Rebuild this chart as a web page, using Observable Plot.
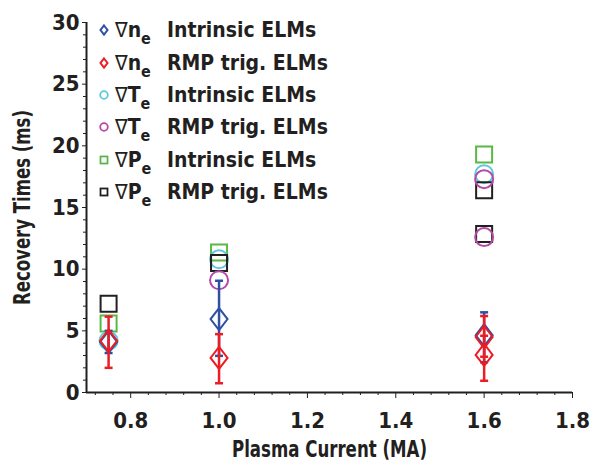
<!DOCTYPE html>
<html>
<head>
<meta charset="utf-8">
<script src="https://cdn.jsdelivr.net/npm/d3@7"></script>
<script src="https://cdn.jsdelivr.net/npm/@observablehq/plot@0.6"></script>
<style>
  html, body { margin: 0; padding: 0; background: #fff; }
  #wrap { position: relative; width: 591px; height: 471px; }
  .cf { font-family: "Liberation Sans Narrow", "DejaVu Sans Condensed", "Roboto Condensed", sans-serif; font-weight: bold; font-stretch: condensed; }
  #legend { position: absolute; left: 97px; top: 14px; color: #231f20; }
  .row { display: flex; align-items: center; height: 32.4px; font-size: 21px; white-space: nowrap; }
  .row svg { width: 14px; height: 14px; margin-right: 4px; }
  .lab { display: inline-block; width: 52px; }
  .nab { font-family: "DejaVu Sans", sans-serif; font-weight: normal; font-size: 21px; }
  .sub { font-size: 16px; position: relative; top: 7px; }
</style>
</head>
<body>
<div id="wrap"></div>
<script>
// ---- data ----
const xMajor = [0.8, 1.0, 1.2, 1.4, 1.6, 1.8];
const xMinor = [0.72, 0.76, 0.84, 0.88, 0.92, 0.96, 1.04, 1.08, 1.12, 1.16, 1.24, 1.28, 1.32, 1.36, 1.44, 1.48, 1.52, 1.56, 1.64, 1.68, 1.72, 1.76];
const yMajor = [0, 5, 10, 15, 20, 25, 30];
const yMinor = [1, 2, 3, 4, 6, 7, 8, 9, 11, 12, 13, 14, 16, 17, 18, 19, 21, 22, 23, 24, 26, 27, 28, 29];

const neIntrX = [0.75, 1.0, 1.6];
const neIntrY = [4.1, 5.95, 4.65];
const neIntrLo = [3.2, 2.97, 2.45];
const neIntrHi = [5.0, 9.06, 6.5];

const neRmpX = [0.75, 1.0, 1.6, 1.6];
const neRmpY = [4.2, 2.8, 4.5, 3.05];
const neRmpLo = [2.0, 0.75, 2.9, 0.95];
const neRmpHi = [6.15, 4.73, 6.2, 4.6];

const teIntrX = [0.75, 1.0, 1.6];
const teIntrY = [4.2, 10.8, 17.7];

const teRmpX = [1.0, 1.6, 1.6];
const teRmpY = [9.1, 17.3, 12.6];

const peIntrX = [0.75, 1.0, 1.6];
const peIntrY = [5.6, 11.35, 19.3];

const peRmpX = [0.75, 1.0, 1.6, 1.6];
const peRmpY = [7.2, 10.5, 16.4, 12.85];

const xTitle = "Plasma Current (MA)";
const yTitle = "Recovery Times (ms)";
const colors = { blue: "#2f4fa3", red: "#ec1c24", cyan: "#5ec8df", magenta: "#b24aa6", green: "#5ab847", black: "#231f20" };

// ---- build tables ----
const pts = (xs, ys, lo, hi) => xs.map((x, i) => ({ x, y: ys[i], lo: lo ? lo[i] : null, hi: hi ? hi[i] : null }));
const neIntr = pts(neIntrX, neIntrY, neIntrLo, neIntrHi);
const neRmp = pts(neRmpX, neRmpY, neRmpLo, neRmpHi);
const teIntr = pts(teIntrX, teIntrY);
const teRmp = pts(teRmpX, teRmpY);
const peIntr = pts(peIntrX, peIntrY);
const peRmp = pts(peRmpX, peRmpY);

// ---- custom symbols ----
const squareSym = h => ({ draw(c) { c.moveTo(-h, -h); c.lineTo(h, -h); c.lineTo(h, h); c.lineTo(-h, h); c.closePath(); } });
const circleSym = r => ({ draw(c) { c.moveTo(r, 0); c.arc(0, 0, r, 0, 2 * Math.PI); } });
const diamondSym = (w, h) => ({ draw(c) { c.moveTo(0, -h); c.lineTo(w, 0); c.lineTo(0, h); c.lineTo(-w, 0); c.closePath(); } });
const capSym = w => ({ draw(c) { c.moveTo(-w, 0); c.lineTo(w, 0); } });

const errMarks = (data, color) => [
  Plot.ruleX(data, { x: "x", y1: "lo", y2: "hi", stroke: color, strokeWidth: 2.5 }),
  Plot.dot(data, { x: "x", y: "lo", symbol: capSym(4), stroke: color, strokeWidth: 2.5 }),
  Plot.dot(data, { x: "x", y: "hi", symbol: capSym(4), stroke: color, strokeWidth: 2.5 })
];
const dotMark = (data, sym, color) => Plot.dot(data, { x: "x", y: "y", symbol: sym, stroke: color, strokeWidth: 2, fill: "none" });

const chart = Plot.plot({
  width: 591,
  height: 471,
  marginLeft: 86,
  marginRight: 19,
  marginTop: 22,
  marginBottom: 79,
  style: { fontFamily: '"Liberation Sans Narrow", "DejaVu Sans Condensed", sans-serif', fontWeight: "bold", fontSize: "22px", color: "#231f20", background: "white", overflow: "visible" },
  x: { domain: [0.7, 1.8] },
  y: { domain: [0, 30] },
  marks: [
    Plot.axisX({ ticks: xMajor, tickFormat: d => d.toFixed(1), tickSize: 6, tickPadding: 14, tickWidth: 1.5, label: null }),
    Plot.axisX({ ticks: xMinor, tickFormat: () => "", tickSize: 3, tickWidth: 1.5, label: null }),
    Plot.axisY({ ticks: yMajor, tickSize: 4, tickPadding: 3, tickWidth: 1.2, label: null }),
    Plot.axisY({ ticks: yMinor, tickFormat: () => "", tickSize: 3, tickWidth: 1.2, label: null }),
    Plot.ruleY([0], { stroke: "#231f20", strokeWidth: 2 }),
    Plot.ruleX([0.7], { stroke: "#231f20", strokeWidth: 2 }),
    Plot.text([xTitle], { frameAnchor: "bottom", lineAnchor: "middle", dy: 57, fontSize: 23, fontWeight: "bold", className: "xtitle" }),
    Plot.text([yTitle], { frameAnchor: "left", rotate: -90, dx: -64, textAnchor: "middle", fontSize: 23, fontWeight: "bold", className: "ytitle" }),
    dotMark(peIntr, squareSym(8), colors.green),
    dotMark(teIntr, circleSym(9), colors.cyan),
    dotMark(peRmp, squareSym(8), colors.black),
    dotMark(teRmp, circleSym(9), colors.magenta),
    ...errMarks(neIntr, colors.blue),
    dotMark(neIntr, diamondSym(8.5, 11), colors.blue),
    ...errMarks(neRmp, colors.red),
    dotMark(neRmp, diamondSym(8.5, 11), colors.red)
  ]
});

// condense the axis titles to the reference width
d3.select(chart).selectAll(".xtitle text, .ytitle text")
  .attr("textLength", 195).attr("lengthAdjust", "spacingAndGlyphs");

const wrap = document.getElementById("wrap");
wrap.appendChild(chart);

// ---- legend ----
const legendItems = [
  { sym: "diamond", color: colors.blue, v: "n", text: "Intrinsic ELMs" },
  { sym: "diamond", color: colors.red, v: "n", text: "RMP trig. ELMs" },
  { sym: "circle", color: colors.cyan, v: "T", text: "Intrinsic ELMs" },
  { sym: "circle", color: colors.magenta, v: "T", text: "RMP trig. ELMs" },
  { sym: "square", color: colors.green, v: "P", text: "Intrinsic ELMs" },
  { sym: "square", color: colors.black, v: "P", text: "RMP trig. ELMs" }
];
const shapes = {
  diamond: c => `<path d="M7,2.5L10.5,7L7,11.5L3.5,7Z" fill="none" stroke="${c}" stroke-width="2"/>`,
  circle: c => `<circle cx="7" cy="7" r="3.8" fill="none" stroke="${c}" stroke-width="1.8"/>`,
  square: c => `<rect x="3.5" y="3.5" width="7" height="7" fill="none" stroke="${c}" stroke-width="1.8"/>`
};
const legend = document.createElement("div");
legend.id = "legend";
legend.className = "cf";
legend.innerHTML = legendItems.map(d =>
  `<div class="row"><svg viewBox="0 0 14 14">${shapes[d.sym](d.color)}</svg>` +
  `<span class="lab"><span class="nab">∇</span>${d.v}<span class="sub">e</span></span>${d.text}</div>`
).join("");
wrap.appendChild(legend);
</script>
</body>
</html>
